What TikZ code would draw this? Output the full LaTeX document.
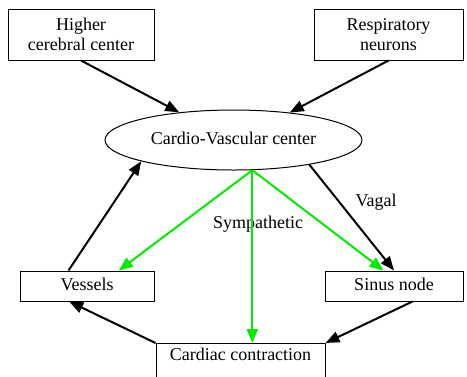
\documentclass[tikz,border=0pt]{standalone}
\usepackage{fontspec}
\setmainfont{Liberation Serif}
\usetikzlibrary{arrows.meta,shapes.geometric}
\definecolor{symgreen}{RGB}{0,235,0}

\begin{document}
\begin{tikzpicture}[x=1pt,y=-1pt,font=\rmfamily\fontsize{18}{20}\selectfont]
	\tikzset{box/.style={draw,line width=1pt,inner sep=0pt}}
	\tikzset{tbox/.style={box,text height=12pt,text depth=4pt}}
	\tikzset{link/.style={line width=2pt,-{Triangle[length=14pt,width=11pt]}}}
	\tikzset{symp/.style={link,symgreen}}

	\useasboundingbox (0,0) rectangle (467,376);

	\node[box,align=center,minimum width=146pt,minimum height=51pt] (hc) at (81,34.5) {Higher\\cerebral center};
	\node[box,align=center,minimum width=149pt,minimum height=51pt] (rn) at (388.5,34.5) {Respiratory\\neurons};
	\node[tbox,ellipse,minimum width=257pt,minimum height=60pt] (cvc) at (233.5,140) {Cardio-Vascular center};
	\node[tbox,minimum width=134pt,minimum height=30pt] (ves) at (87,286) {Vessels};
	\node[tbox,minimum width=138pt,minimum height=30pt] (sn) at (394,286) {Sinus node};
	\node[box,anchor=north,minimum width=169pt,inner ysep=5pt,text height=12pt,text depth=30pt] (cc) at (240.5,343) {Cardiac contraction};

	\node (vag) at (376,202) {Vagal};
	\node (sym) at (258,224) {Sympathetic};

	\draw[link] (hc.south) -- (cvc.153);
	\draw[link] (rn.south) -- (cvc.26);
	\draw[link] (cvc.342) -- (sn.north);
	\draw[link] (ves.140) -- (cvc.193);
	\draw[link] (cc.north west) -- (ves.221);
	\draw[link] (sn.320) -- (cc.north east);

	% sympathetic branches
	\coordinate (g) at (cvc.302);
	\draw[symp] (g) -- (ves.26);
	\draw[symp] (g) -- (sn.124);
	\draw[symp] (g) -- (cc.north -| g);
\end{tikzpicture}
\end{document}
